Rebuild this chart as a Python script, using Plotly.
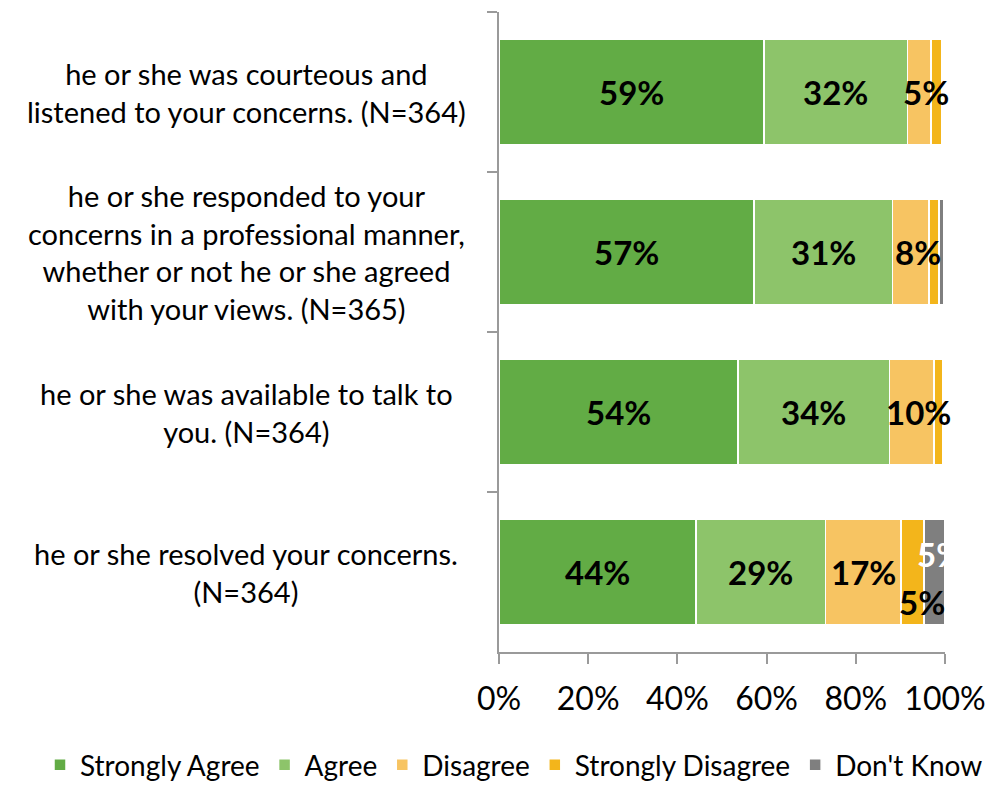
import plotly.graph_objects as go

categories = [
    "he or she was courteous and<br>listened to your concerns. (N=364)",
    "he or she responded to your<br>concerns in a professional manner,<br>whether or not he or she agreed<br>with your views. (N=365)",
    "he or she was available to talk to<br>you. (N=364)",
    "he or she resolved your concerns.<br>(N=364)",
]
series_names = ["Strongly Agree", "Agree", "Disagree", "Strongly Disagree", "Don't Know"]
strongly_agree = [59.4, 57.2, 53.6, 44.2]
agree = [32.2, 31.0, 33.9, 29.0]
disagree = [5.3, 8.2, 10.0, 16.9]
strongly_disagree = [2.4, 2.3, 2.1, 5.2]
dont_know = [0.5, 1.1, 0.4, 4.6]
# which data labels are shown in the original (per series, per category)
show_label = [
    [True, True, True, True],
    [True, True, True, True],
    [True, True, True, True],
    [False, False, False, True],
    [False, False, False, True],
]
x_ticks = [0, 20, 40, 60, 80, 100]

colors = ["#62AC45", "#8DC46A", "#F7C462", "#F3B51B", "#7F7F7F"]
values = [strongly_agree, agree, disagree, strongly_disagree, dont_know]

# page body has an 8px margin, so the figure is drawn 8px smaller and offset
OFF = 8
W, H = 998 - OFF, 785 - OFF
L_PX, R_PX, T_PX, B_PX = 499 - OFF, 945 - OFF, 12 - OFF, 652 - OFF
ML, MR = 0, 0
PW = W - ML - MR

fig = go.Figure()
for name, vals, col in zip(series_names, values, colors):
    fig.add_trace(go.Bar(
        y=categories, x=vals, name=name, orientation="h",
        marker=dict(color=col, line=dict(color="white", width=1.5)),
        hoverinfo="x+name",
    ))

annotations = []
label_style = {
    3: dict(xshift=10, yshift=-30, color="black"),
    4: dict(xshift=6, yshift=18, color="white"),
}
for si, vals in enumerate(values):
    for ci, cat in enumerate(categories):
        if not show_label[si][ci]:
            continue
        start = sum(values[k][ci] for k in range(si))
        mid = start + vals[ci] / 2
        st = label_style.get(si, dict(xshift=0, yshift=0, color="black"))
        if si == 2 and vals[ci] < 12:
            st = dict(xshift=7, yshift=0, color="black")
        annotations.append(dict(
            x=mid, y=cat, xref="x", yref="y", text=f"<b>{round(vals[ci])}%</b>",
            showarrow=False, xshift=st["xshift"], yshift=st["yshift"],
            font=dict(family="Lato", size=33, color=st["color"]),
        ))
for cat in categories:
    annotations.append(dict(
        x=(246 - OFF) / PW, y=cat, xref="paper", yref="y", text=cat, showarrow=False,
        align="center", xanchor="center", yanchor="middle",
        font=dict(family="Lato", size=29, color="black"),
    ))

fig.update_layout(
    barmode="stack",
    bargap=0.34,
    width=W, height=H,
    margin=dict(l=ML, r=MR, t=T_PX, b=H - B_PX, autoexpand=False),
    plot_bgcolor="white", paper_bgcolor="white",
    font=dict(family="Lato", color="black"),
    annotations=annotations,
    legend=dict(
        orientation="h", xref="container", x=(514 - OFF) / W, xanchor="center",
        yref="container", y=(H - (765 - OFF)) / H, yanchor="middle",
        font=dict(family="Lato", size=28, color="black"),
        traceorder="normal", itemwidth=30,
    ),
    xaxis=dict(
        domain=[L_PX / PW, R_PX / PW],
        range=[0, 100], tickvals=x_ticks, ticktext=[f"{t}%" for t in x_ticks],
        showgrid=False, zeroline=False, showline=True, linecolor="#9A9A9A", linewidth=1.5,
        ticks="outside", ticklen=10, tickcolor="#9A9A9A", tickwidth=1.5,
        ticklabelstandoff=8,
        tickfont=dict(family="Lato", size=32, color="black"),
    ),
    yaxis=dict(
        categoryorder="array", categoryarray=categories, autorange="reversed",
        showticklabels=False, showgrid=False, showline=True, linecolor="#9A9A9A", linewidth=1.5,
        ticks="outside", ticklen=10, tickcolor="#9A9A9A", tickwidth=1.5, tickson="boundaries",
    ),
)

fig.write_html("out.html")
